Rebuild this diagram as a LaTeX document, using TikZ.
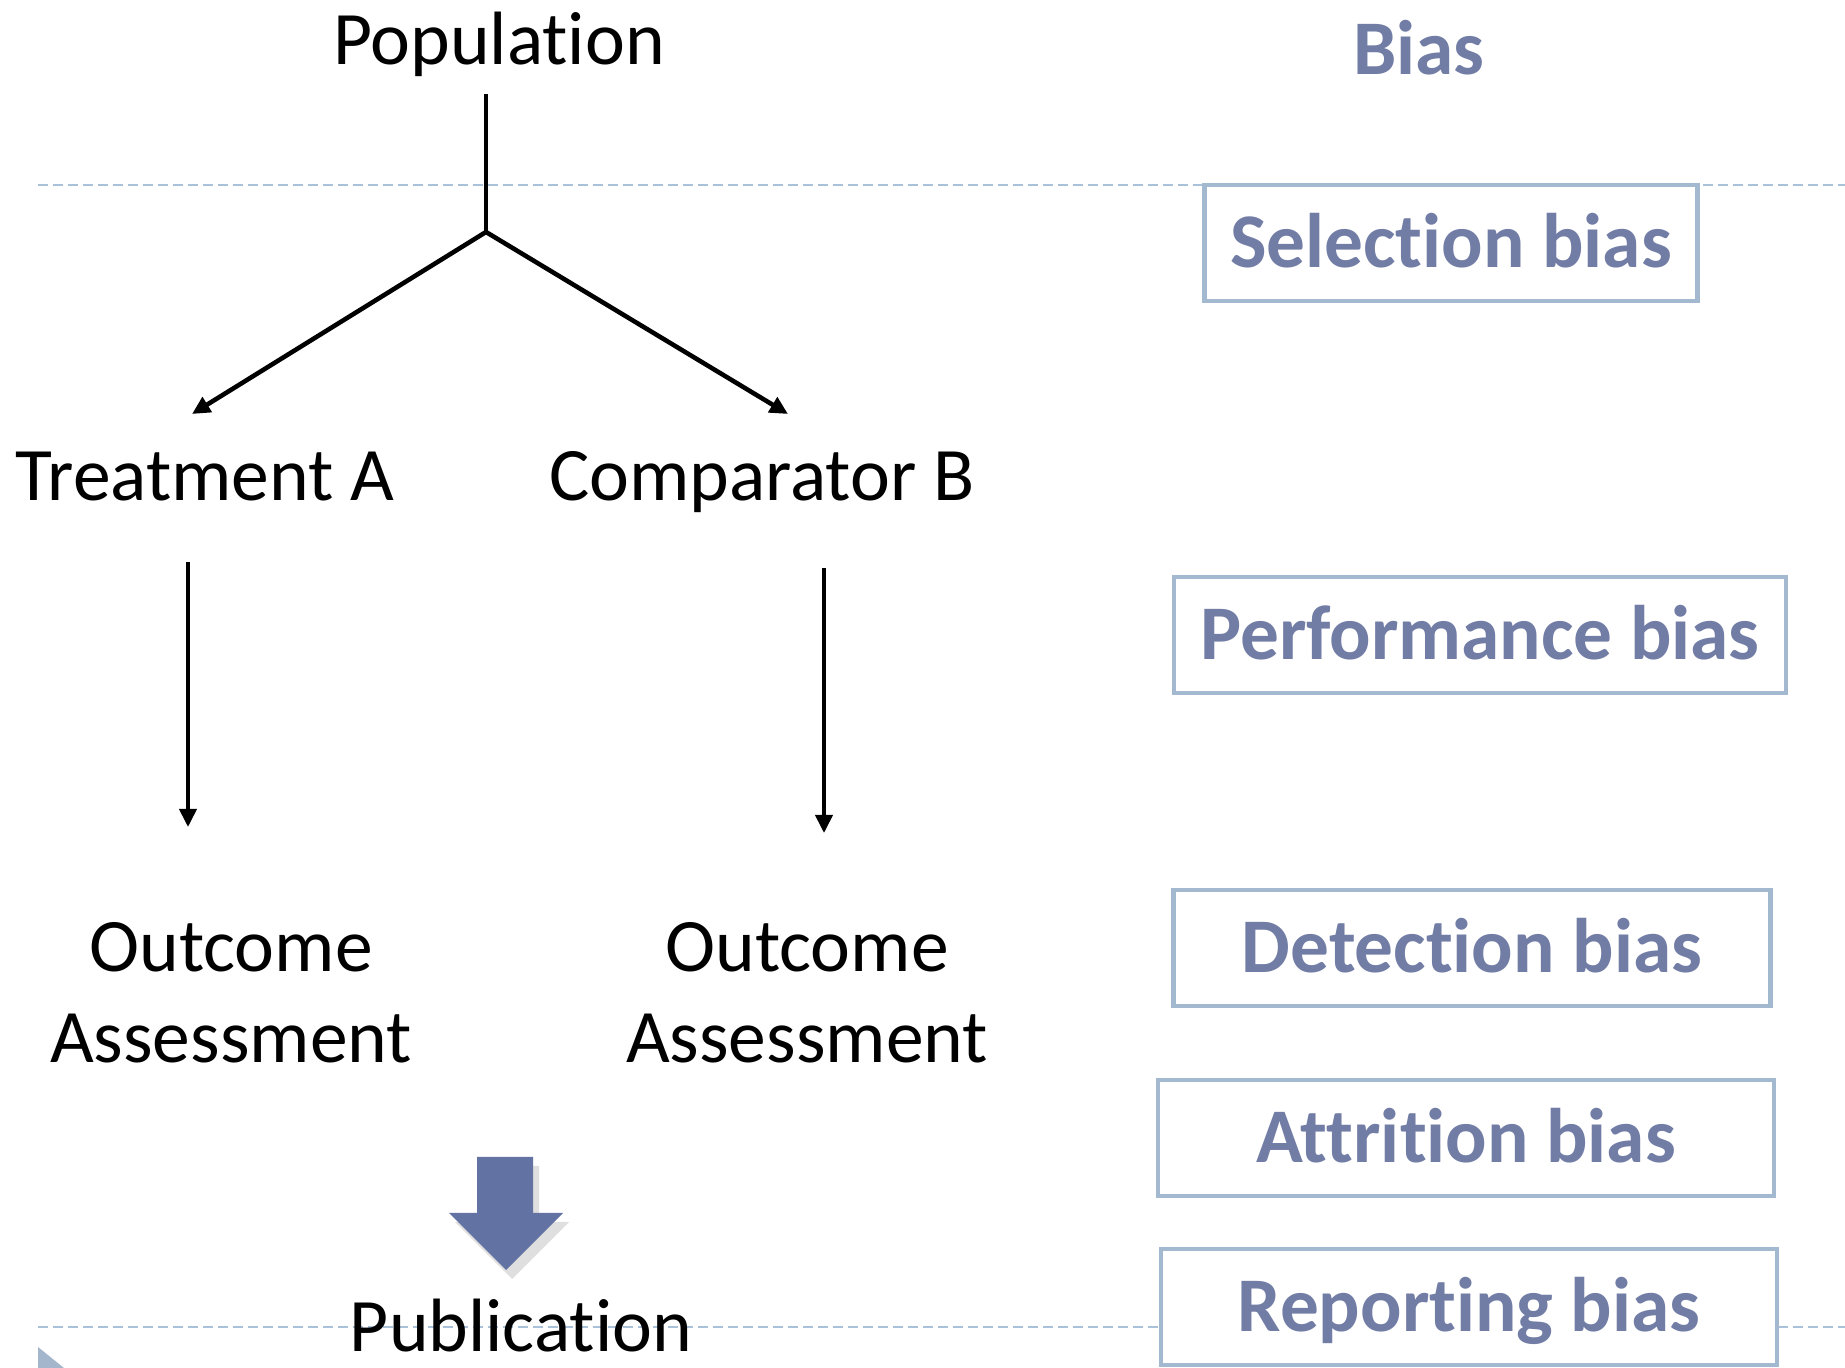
\documentclass[tikz,border=0pt]{standalone}
\usepackage{fontspec}
\setmainfont{Carlito}[Ligatures=NoCommon,Contextuals=NoAlternate]
\usetikzlibrary{arrows.meta,shadows}
\definecolor{biasblue}{HTML}{727DA6}
\definecolor{boxline}{HTML}{A2B9CF}
\definecolor{dashline}{HTML}{A9C1D9}
\definecolor{blockblue}{HTML}{6272A2}
\definecolor{bulletblue}{HTML}{A3B6CC}
\begin{document}
\begin{tikzpicture}[x=0.1mm,y=-0.1mm,
    txt/.style={font=\fontsize{21.5}{26}\selectfont,anchor=base,inner sep=0pt},
    biasbox/.style={draw=boxline,line width=1.3pt,fill=white,inner sep=0pt,
        font=\fontsize{22}{26}\selectfont\bfseries,text=biasblue,
        minimum height=11.6mm,text height=14.2pt,text depth=0pt},
    tip/.style={-{Triangle[length=1.8mm,width=1.7mm]}}]
    \useasboundingbox (0,0) rectangle (1845,1368);
    % dashed rules
    \coordinate (topl) at (38,185);
    \coordinate (topr) at (1845,185);
    \coordinate (botl) at (38,1327);
    \coordinate (botr) at (1845,1327);
    \draw[dashline,line width=0.8pt,dash pattern=on 1mm off 0.5mm] (topl) -- (topr) (botl) -- (botr);
    \fill[bulletblue] (38,1347) -- (64,1368) -- (38,1389) -- cycle;
    \begin{scope}[every node/.style={txt}]
    \node (pop) at (499,65) {Population};
    \node (trtA) at (205,501) {Treatment A};
    \node (cmpB) at (762,501) {Comparator B};
    \node[align=center] (outA) at (231,1063) {Outcome\\Assessment};
    \node[align=center] (outB) at (807,1063) {Outcome\\Assessment};
    \node (pub) at (521,1352) {Publication};
    \end{scope}
    \coordinate (stem) at (486,94);
    \coordinate (split) at (486,232);
    \coordinate (endA) at (192,414);
    \coordinate (endB) at (788,414);
    \coordinate (a1) at (188,562);
    \coordinate (a2) at (188,827);
    \coordinate (b1) at (824,568);
    \coordinate (b2) at (824,833);
    \begin{scope}[line width=1.3pt]
    \path (stem) edge (split)
          (split) edge[tip] (endA)
          (split) edge[tip] (endB);
    \end{scope}
    \begin{scope}[line width=1.1pt]
    \path (a1) edge[tip] (a2)
          (b1) edge[tip] (b2);
    \end{scope}
    % block arrow to publication
    \fill[blockblue,drop shadow={opacity=0.25,shadow xshift=0.6mm,shadow yshift=-0.9mm}]
        (477,1157) -- (533,1157) -- (533,1213) -- (563,1213) -- (506,1270)
        -- (449,1213) -- (477,1213) -- cycle;
    % bias column
    \node[font=\fontsize{22}{26}\selectfont\bfseries,text=biasblue,anchor=base,inner sep=0pt] (biashead) at (1419,75) {Bias};
    \begin{scope}[every node/.style={biasbox}]
    \node[minimum width=49.3mm] (selbias) at (1451,243) {Selection bias};
    \node[minimum width=61.2mm] (perfbias) at (1480,635) {Performance bias};
    \node[minimum width=59.7mm] (detbias) at (1472,948) {Detection bias};
    \node[minimum width=61.6mm] (attbias) at (1466,1138) {Attrition bias};
    \node[minimum width=61.6mm] (repbias) at (1469,1307) {Reporting bias};
    \end{scope}
\end{tikzpicture}
\end{document}
